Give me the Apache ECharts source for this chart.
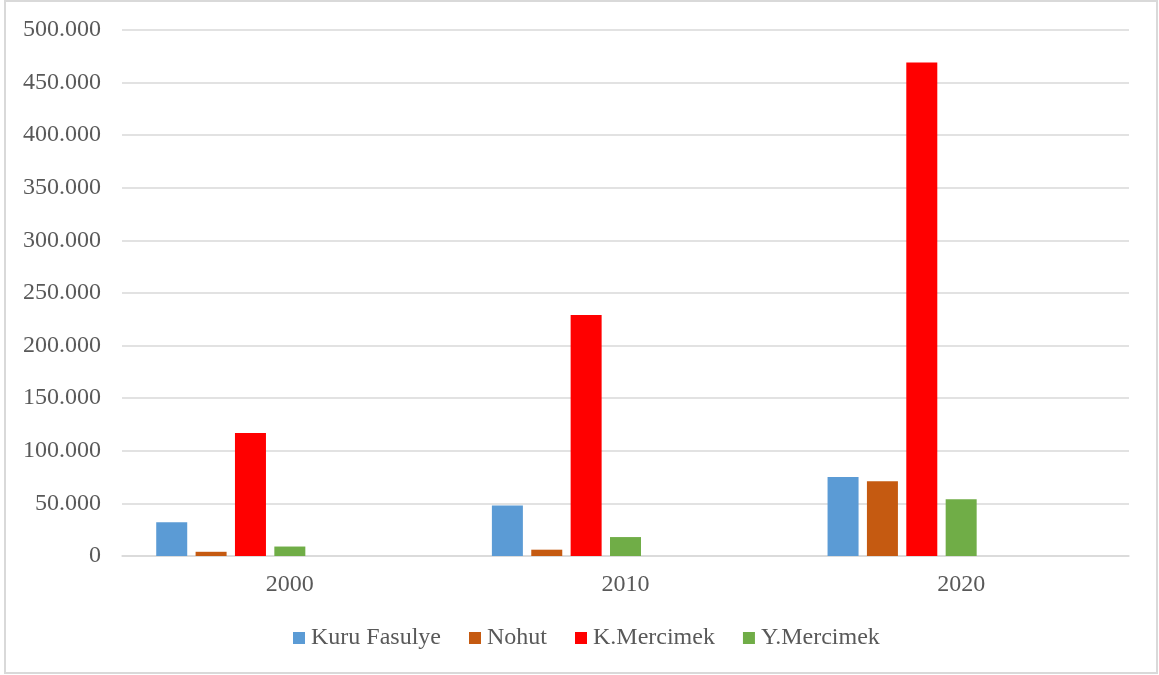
<!DOCTYPE html>
<html>
<head>
<meta charset="utf-8">
<style>
  html, body { margin: 0; padding: 0; background: #ffffff; }
  #chart { width: 1159px; height: 675px; }
</style>
<script src="https://cdn.jsdelivr.net/npm/echarts@6/dist/echarts.min.js"></script>
</head>
<body>
<div id="chart"></div>
<script>
// Years on the category axis
const years = ['2000', '2010', '2020'];

// Series values
const kuruFasulye = [32000, 48000, 75000];
const nohut = [4000, 6000, 71000];
const kMercimek = [117000, 229000, 469000];
const yMercimek = [9000, 18000, 54000];
// Three empty slots that follow the four pulses in each year group
const emptySlot = [null, null, null];

const seriesNames = ['Kuru Fasulye', 'Nohut', 'K.Mercimek', 'Y.Mercimek'];
const seriesColors = ['#5B9BD5', '#C55A11', '#FF0000', '#70AD47'];

// Y axis range and step
const yMin = 0;
const yMax = 500000;
const yStep = 50000;

const FONT = '"Liberation Serif", "Times New Roman", serif';
const TEXT = '#595959';
const GRID = '#d9d9d9';

// Turkish style thousands separator: 500000 -> 500.000
function fmt(v) {
  return String(Math.round(v)).replace(/\B(?=(\d{3})+(?!\d))/g, '.');
}

const chart = echarts.init(document.getElementById('chart'), null, { renderer: 'canvas' });

const valueSets = [kuruFasulye, nohut, kMercimek, yMercimek];
const series = valueSets.map((vals, i) => ({
  name: seriesNames[i],
  type: 'bar',
  data: vals,
  barWidth: 31,
  barGap: '27%',
  itemStyle: { color: seriesColors[i] },
  emphasis: { disabled: true }
}));
for (let k = 0; k < 3; k++) {
  series.push({
    name: 'slot' + k,
    type: 'bar',
    data: emptySlot,
    barWidth: 31,
    barGap: '27%',
    itemStyle: { color: 'transparent' }
  });
}

chart.setOption({
  animation: false,
  backgroundColor: '#ffffff',
  graphic: [{
    type: 'rect',
    shape: { x: 5, y: 1, width: 1152, height: 672 },
    style: { fill: 'none', stroke: GRID, lineWidth: 2 },
    silent: true,
    z: -1
  }],
  grid: { left: 122, right: 30, top: 30, bottom: 119 },
  legend: {
    data: seriesNames,
    left: 288,
    top: 621,
    itemWidth: 12,
    itemHeight: 12,
    itemGap: 28,
    icon: 'rect',
    textStyle: { fontFamily: FONT, fontSize: 24, color: TEXT, padding: [0, 0, 0, 1] }
  },
  xAxis: {
    type: 'category',
    data: years,
    axisLine: { show: true, lineStyle: { color: GRID, width: 1.5 } },
    axisTick: { show: false },
    axisLabel: { fontFamily: FONT, fontSize: 24, color: TEXT, margin: 17 }
  },
  yAxis: {
    type: 'value',
    min: yMin,
    max: yMax,
    interval: yStep,
    axisLine: { show: false },
    axisTick: { show: false },
    splitLine: { lineStyle: { color: GRID, width: 1.5 } },
    axisLabel: {
      fontFamily: FONT, fontSize: 24, color: TEXT, margin: 21,
      formatter: fmt
    }
  },
  series: series
});
</script>
</body>
</html>
